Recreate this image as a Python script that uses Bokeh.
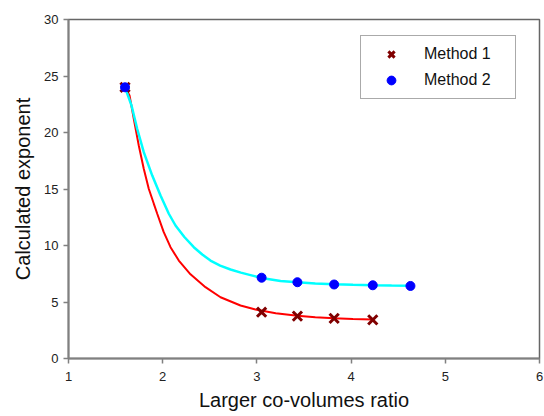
from bokeh.plotting import figure
from bokeh.models import Legend, LegendItem, FixedTicker
from bokeh.embed import file_html
from bokeh.resources import INLINE

# Measured points
m1_x = [1.60, 3.05, 3.43, 3.82, 4.23]
m1_y = [24.0, 4.10, 3.75, 3.55, 3.42]
m2_x = [1.60, 3.05, 3.43, 3.82, 4.23, 4.63]
m2_y = [24.0, 7.15, 6.75, 6.55, 6.48, 6.42]

# Fitted curves
fit1_x = [1.60, 1.648, 1.693, 1.746, 1.799, 1.852, 1.906, 1.942, 2.01, 2.083, 2.171, 2.295, 2.454, 2.614,
          2.826, 2.985, 3.20, 3.43, 3.62, 3.82, 4.02, 4.23]
fit1_y = [24.0, 23.27, 21.21, 18.85, 16.79, 15.02, 13.69, 12.81, 11.20, 9.85, 8.67, 7.45, 6.31, 5.42,
          4.69, 4.34, 4.00, 3.78, 3.65, 3.56, 3.50, 3.46]
fit2_x = [1.60, 1.669, 1.729, 1.799, 1.889, 1.977, 2.065, 2.136, 2.23, 2.330, 2.42, 2.507, 2.61, 2.720,
          2.83, 2.932, 3.049, 3.251, 3.43, 3.62, 3.82, 4.02, 4.23, 4.43, 4.63]
fit2_y = [24.0, 22.39, 20.33, 18.26, 16.19, 14.42, 12.81, 11.77, 10.75, 9.85, 9.20, 8.67, 8.22, 7.88,
          7.60, 7.38, 7.13, 6.86, 6.74, 6.64, 6.57, 6.52, 6.48, 6.45, 6.43]

x_ticks = [1, 2, 3, 4, 5, 6]
y_ticks = [0, 5, 10, 15, 20, 25, 30]
x_title = "Larger co-volumes ratio"
y_title = "Calculated exponent"

FONT = "Liberation Sans"

p = figure(width=544, height=416, x_range=(1, 6), y_range=(0, 30),
           output_backend="svg", toolbar_location=None,
           min_border_left=68, min_border_right=5, min_border_top=19, min_border_bottom=58)
p.grid.visible = False
p.outline_line_color = "#666666"
p.outline_line_width = 1.5
p.background_fill_color = "white"
p.border_fill_color = "white"

p.line(fit1_x, fit1_y, line_color="#FF0000", line_width=2)
p.line(fit2_x, fit2_y, line_color="#00FFFF", line_width=2.5)
r1 = p.scatter(m1_x, m1_y, marker="x", size=13, line_color="#800000", line_width=3)
r2 = p.scatter(m2_x, m2_y, marker="circle", size=9, fill_color="#0000FF", line_color="#0000FF")

for ax in (p.xaxis[0], p.yaxis[0]):
    ax.axis_line_color = "#808080"
    ax.axis_line_width = 2
    ax.major_tick_line_color = "#808080"
    ax.major_tick_line_width = 1.5
    ax.major_tick_out = 5
    ax.major_tick_in = 0
    ax.minor_tick_line_color = None
    ax.major_label_text_font = FONT
    ax.major_label_text_font_size = "13px"
    ax.major_label_text_color = "#222222"
    ax.axis_label_text_font = FONT
    ax.axis_label_text_font_size = "20px"
    ax.axis_label_text_font_style = "normal"
    ax.axis_label_text_color = "#111111"

p.xaxis[0].ticker = FixedTicker(ticks=x_ticks)
p.yaxis[0].ticker = FixedTicker(ticks=y_ticks)
p.xaxis[0].major_label_standoff = 8
p.yaxis[0].major_label_standoff = 5
p.xaxis[0].axis_label = x_title
p.xaxis[0].axis_label_standoff = 5
p.yaxis[0].axis_label = y_title
p.yaxis[0].axis_label_standoff = 7

legend = Legend(items=[LegendItem(label="Method 1", renderers=[r1]),
                       LegendItem(label="Method 2", renderers=[r2])],
                location=(292, 259), orientation="vertical",
                glyph_width=46, glyph_height=22, spacing=4, padding=7,
                label_standoff=10, label_width=84,
                label_text_font=FONT, label_text_font_size="16px",
                label_text_color="#111111",
                border_line_color="#555555", border_line_width=1.5,
                background_fill_color="white", background_fill_alpha=1)
p.add_layout(legend)

open("out.html", "w").write(file_html(p, INLINE))
